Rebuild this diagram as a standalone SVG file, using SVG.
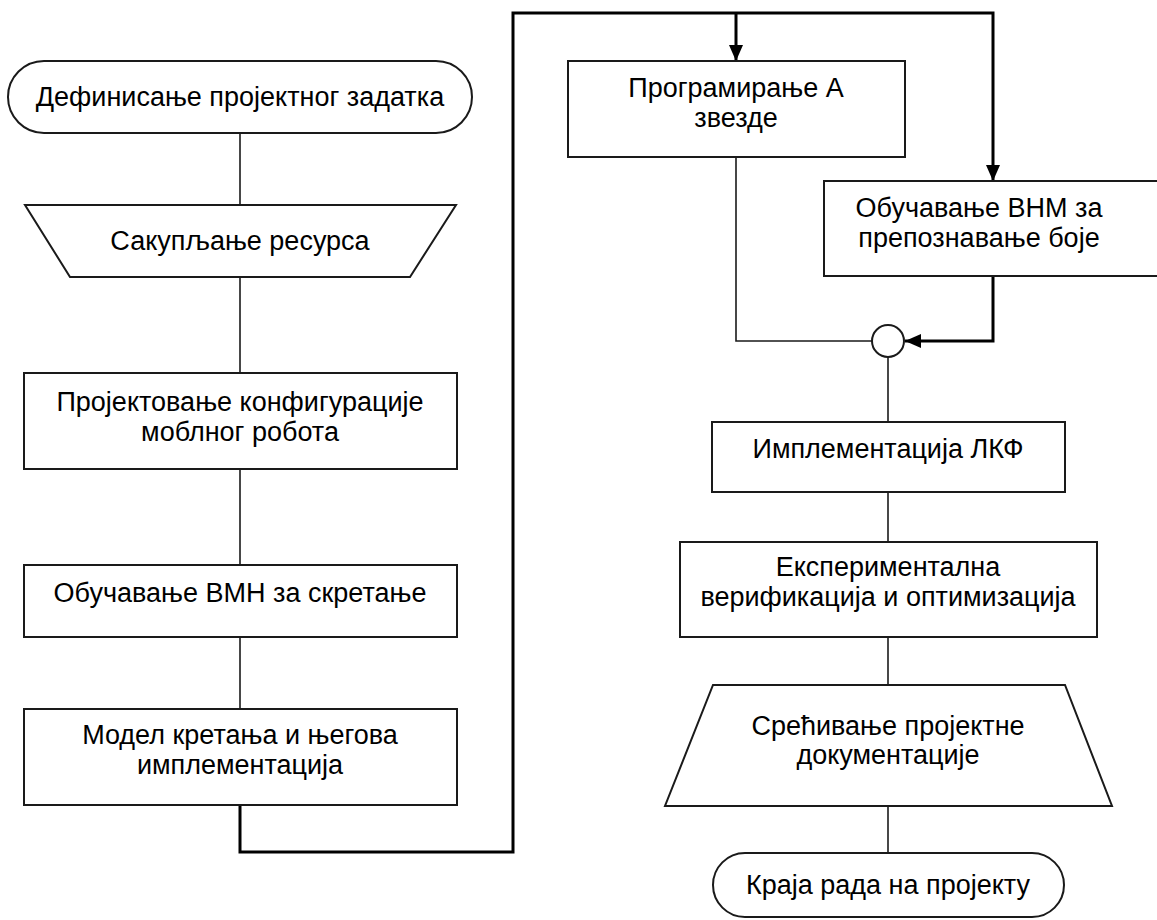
<svg xmlns="http://www.w3.org/2000/svg" width="1157" height="920" viewBox="0 0 1157 920">
  <defs>
    <marker id="arrow" viewBox="0 0 16 14" refX="16" refY="7" markerWidth="16" markerHeight="14" markerUnits="userSpaceOnUse" orient="auto">
      <path d="M0,0 L16,7 L0,14 Z" fill="#000"/>
    </marker>
    <style>
      .shape { fill: #fff; stroke: #1a1a1a; stroke-width: 2; }
      .label { font-family: "Liberation Sans", Arial, sans-serif; font-size: 27px; fill: #000; text-anchor: middle; }
      .thin { fill: none; stroke: #1a1a1a; stroke-width: 1.6; }
      .thick { fill: none; stroke: #000; stroke-width: 3; }
    </style>
  </defs>
  <rect width="1157" height="920" fill="#fff"/>

  <!-- connectors -->
  <g id="connectors">
    <line class="thin" x1="240" y1="133" x2="240" y2="205"/>
    <line class="thin" x1="240" y1="277" x2="240" y2="373"/>
    <line class="thin" x1="240" y1="469" x2="240" y2="565"/>
    <line class="thin" x1="240" y1="637" x2="240" y2="709"/>
    <path class="thick" d="M240,805 L240,852 L513,852 L513,13 L993,13 L993,181" marker-end="url(#arrow)"/>
    <path class="thick" d="M736,13 L736,61" marker-end="url(#arrow)"/>
    <path class="thin" d="M736,157 L736,341 L872,341"/>
    <path class="thick" d="M993,276 L993,341 L905,341" marker-end="url(#arrow)"/>
    <line class="thin" x1="888" y1="357" x2="888" y2="422"/>
    <line class="thin" x1="888" y1="492" x2="888" y2="542"/>
    <line class="thin" x1="888" y1="637" x2="888" y2="685"/>
    <line class="thin" x1="888" y1="806" x2="888" y2="853"/>
  </g>

  <!-- left column -->
  <g id="start">
    <rect class="shape" x="8" y="61" width="464" height="72" rx="36" ry="36"/>
    <text class="label" x="240" y="106">Дефинисање пројектног задатка</text>
  </g>
  <g id="resources">
    <polygon class="shape" points="25,205 456,205 410,277 70,277"/>
    <text class="label" x="240" y="250">Сакупљање ресурса</text>
  </g>
  <g id="configuration">
    <rect class="shape" x="24" y="373" width="433" height="96"/>
    <text class="label" x="240" y="411">Пројектовање конфигурације</text>
    <text class="label" x="240" y="441">моблног робота</text>
  </g>
  <g id="training-turn">
    <rect class="shape" x="24" y="565" width="433" height="72"/>
    <text class="label" x="240" y="602">Обучавање ВМН за скретање</text>
  </g>
  <g id="motion-model">
    <rect class="shape" x="24" y="709" width="433" height="96"/>
    <text class="label" x="240" y="744">Модел кретања и његова</text>
    <text class="label" x="240" y="774">имплементација</text>
  </g>

  <!-- right column -->
  <g id="astar">
    <rect class="shape" x="568" y="61" width="337" height="96"/>
    <text class="label" x="736" y="97">Програмирање А</text>
    <text class="label" x="736" y="127">звезде</text>
  </g>
  <g id="training-color">
    <rect class="shape" x="824" y="181" width="340" height="95"/>
    <text class="label" x="979" y="217">Обучавање ВНМ за</text>
    <text class="label" x="979" y="247">препознавање боје</text>
  </g>
  <g id="join">
    <circle class="shape" cx="888" cy="341" r="16"/>
  </g>
  <g id="lkf">
    <rect class="shape" x="712" y="422" width="353" height="70"/>
    <text class="label" x="888" y="458">Имплементација ЛКФ</text>
  </g>
  <g id="verification">
    <rect class="shape" x="680" y="542" width="417" height="95"/>
    <text class="label" x="888" y="576">Експериментална</text>
    <text class="label" x="888" y="606">верификација и оптимизација</text>
  </g>
  <g id="documentation">
    <polygon class="shape" points="713,685 1065,685 1112,806 665,806"/>
    <text class="label" x="888" y="735">Срећивање пројектне</text>
    <text class="label" x="888" y="764">документације</text>
  </g>
  <g id="end">
    <rect class="shape" x="713" y="853" width="351" height="64" rx="32" ry="32"/>
    <text class="label" x="888" y="894">Краја рада на пројекту</text>
  </g>
</svg>
